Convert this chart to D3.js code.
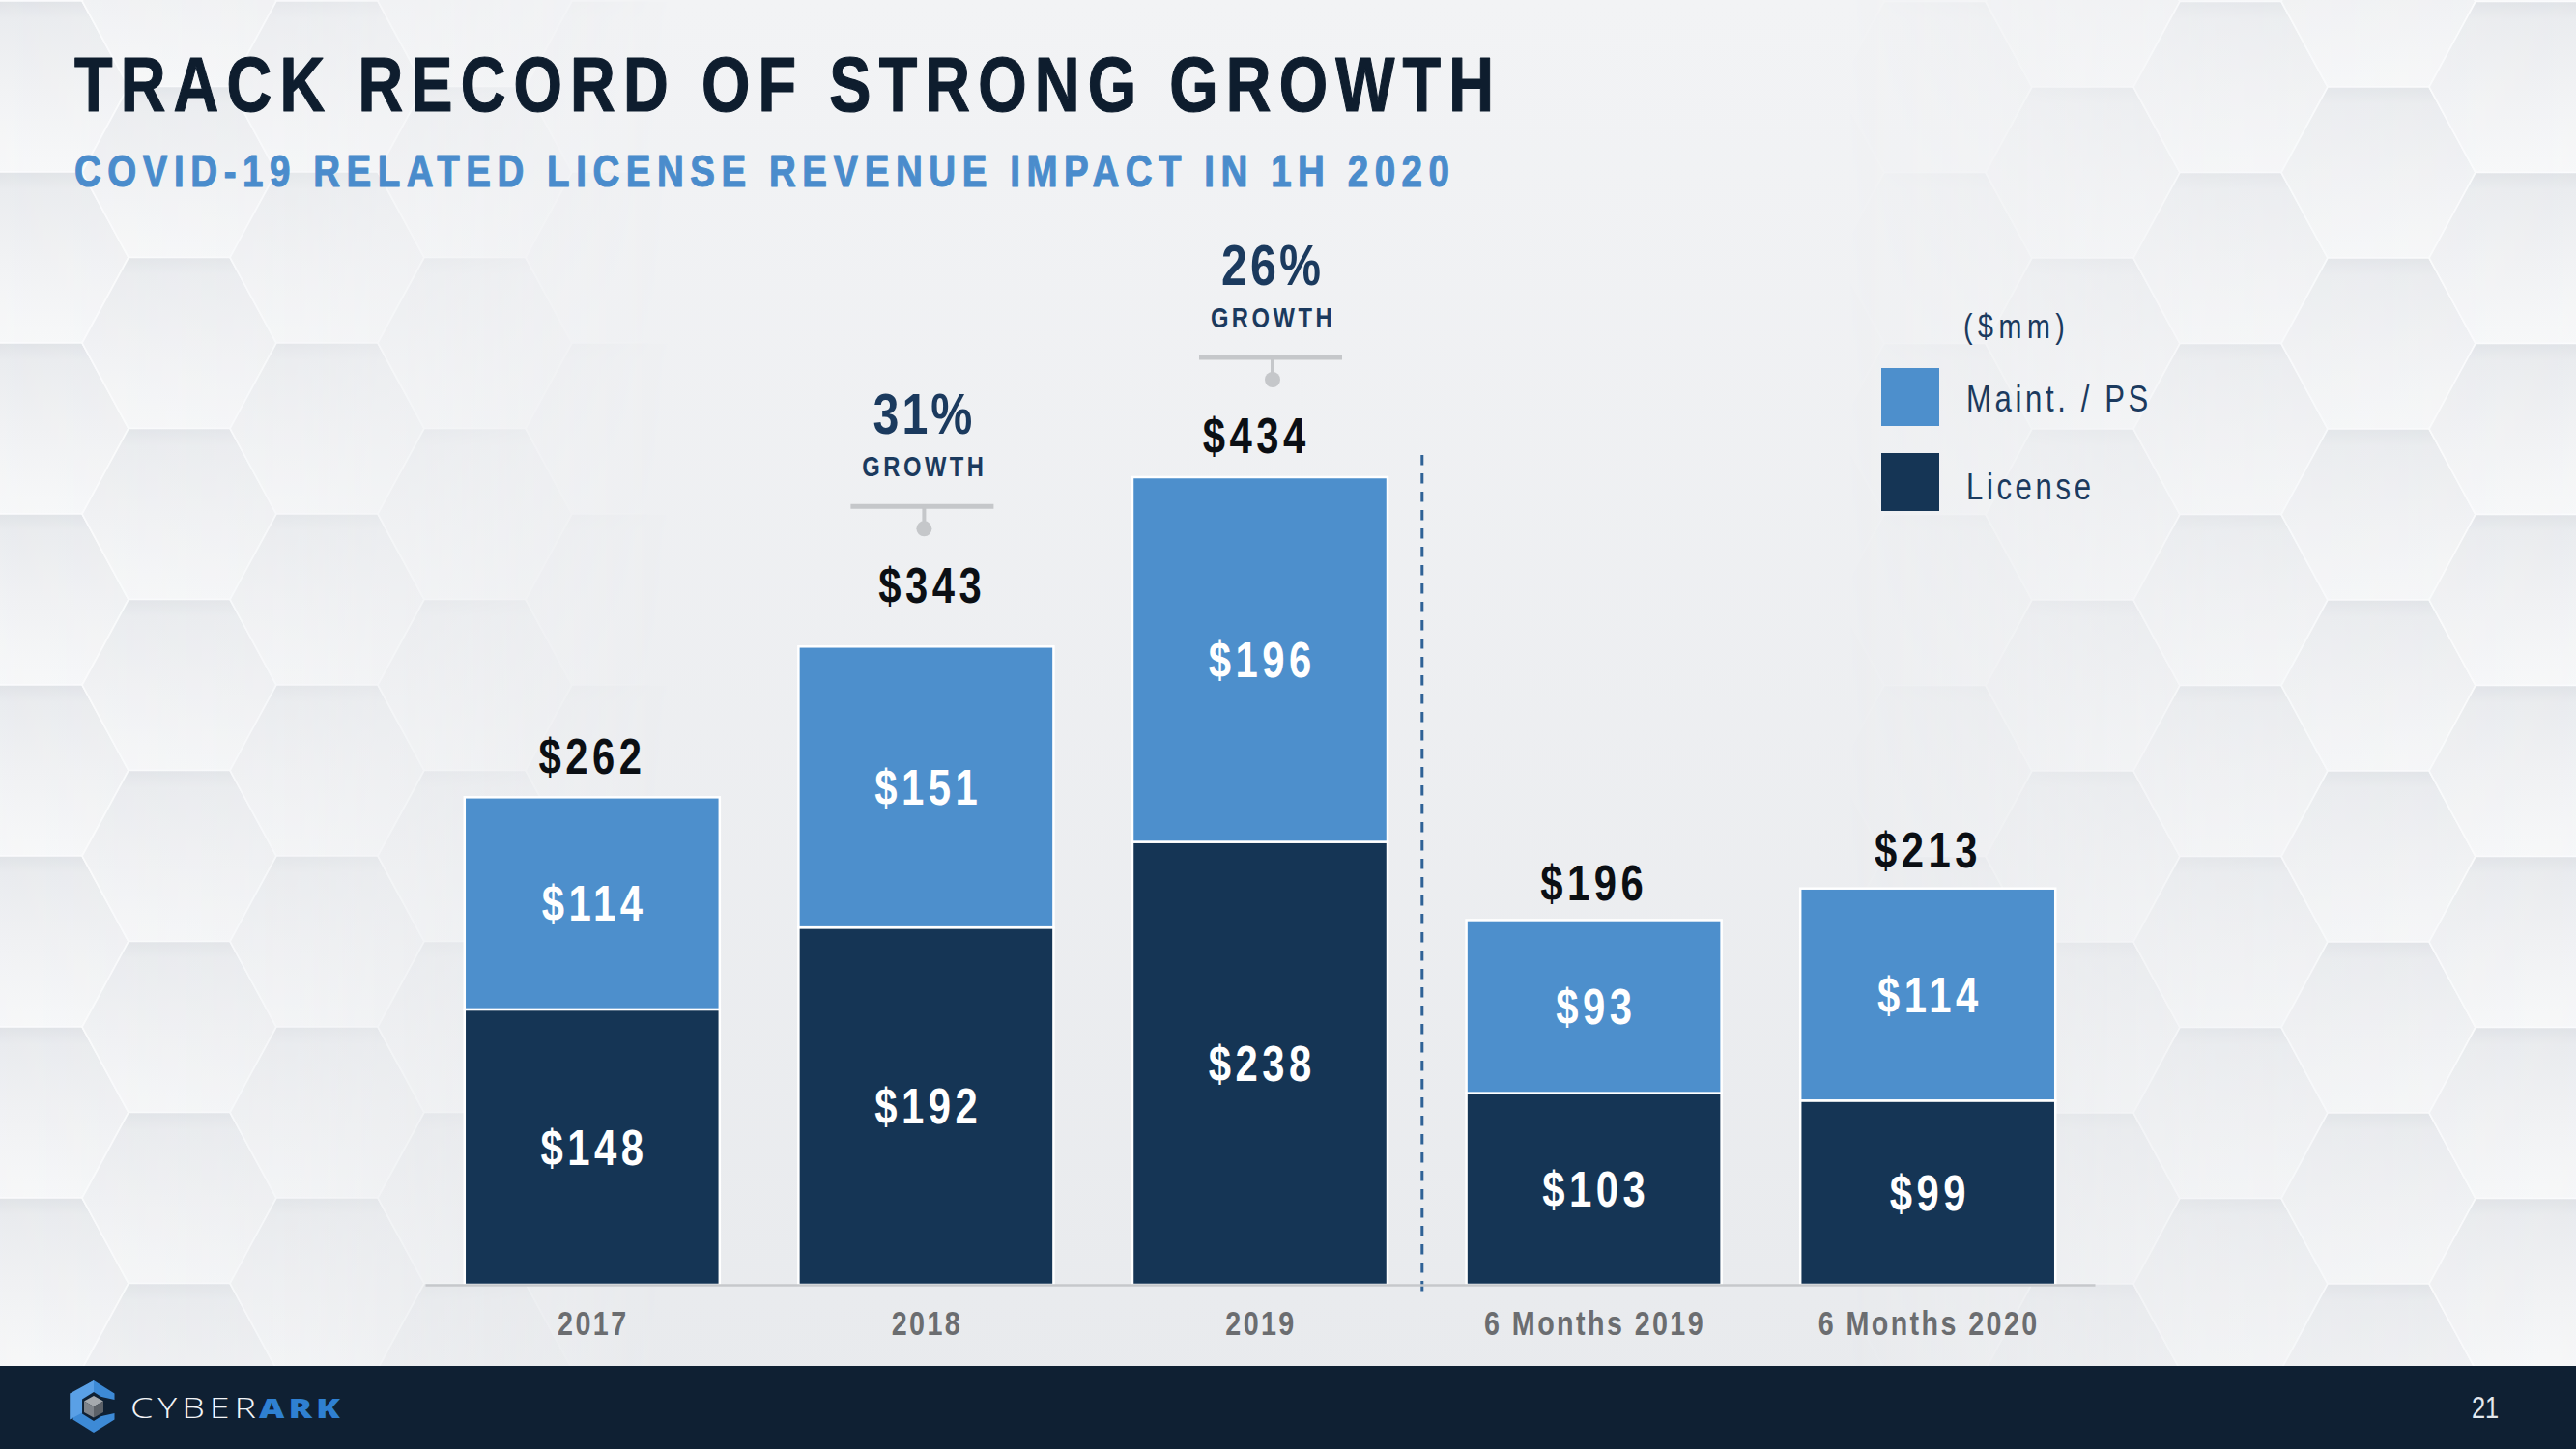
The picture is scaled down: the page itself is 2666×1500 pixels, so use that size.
<!DOCTYPE html>
<html><head><meta charset="utf-8">
<script src="https://cdn.jsdelivr.net/npm/d3@7"></script>
<style>html,body{margin:0;padding:0;background:#eff1f3;overflow:hidden}</style>
</head><body>
<svg id="c" width="2666" height="1500" xmlns="http://www.w3.org/2000/svg"></svg>
<script>
// ---------------- DATA ----------------
const categories = ["2017", "2018", "2019", "6 Months 2019", "6 Months 2020"];
const license = [148, 192, 238, 103, 99];
const maint = [114, 151, 196, 93, 114];
const totals = [262, 343, 434, 196, 213];
const seriesNames = ["Maint. / PS", "License"];
const growthCats = ["2018", "2019"];
const growthValues = ["31%", "26%"];
const growthWord = "GROWTH";
const unitLabel = "($mm)";
const titleText = "TRACK RECORD OF STRONG GROWTH";
const subtitleText = "COVID-19 RELATED LICENSE REVENUE IMPACT IN 1H 2020";
const pageNumber = "21";

// ---------------- FONTS ----------------
// Arial Narrow look: Liberation Sans (Arial metrics) squeezed horizontally
const FONT = "'Liberation Sans', Arial, sans-serif";
const SX = 0.82;

const C_LIGHT = "#4d8fcc", C_DARK = "#153555", C_NAVY = "#1b3a5e", C_FOOT = "#0f2033";

const svg = d3.select("#c");
const W = 2666, H = 1500;
const defs = svg.append("defs");

// narrow text helper
function ntext(parent, x, y, str, o) {
  const sx = o.sx || SX;
  const g = parent.append("g").attr("transform", `translate(${x},${y}) scale(${sx},1)`);
  const t = g.append("text").attr("x", 0).attr("y", 0).text(str)
    .attr("font-family", o.family || FONT).attr("font-weight", o.weight || 400).attr("font-size", o.size)
    .attr("fill", o.fill).attr("text-anchor", o.anchor || "start");
  if (o.ls != null) t.attr("letter-spacing", o.ls / sx);
  if (o.len != null) t.attr("textLength", o.len / sx).attr("lengthAdjust", "spacing");
  if (o.stroke) t.attr("stroke", o.fill).attr("stroke-width", o.stroke).attr("stroke-linejoin", "round");
  return t;
}

// ---------------- BACKGROUND ----------------
const bg = defs.append("linearGradient").attr("id", "bg").attr("x1", 0).attr("y1", 0).attr("x2", 0).attr("y2", 1);
bg.append("stop").attr("offset", 0).attr("stop-color", "#f2f3f5");
bg.append("stop").attr("offset", 1).attr("stop-color", "#e8eaed");
svg.append("rect").attr("width", W).attr("height", H).attr("fill", "url(#bg)");

const hg = defs.append("linearGradient").attr("id", "hexfill").attr("x1", 0).attr("y1", 0).attr("x2", 0).attr("y2", 1);
[[0, "#dfe2e6"], [0.1, "#e9ebee"], [0.5, "#f0f1f3"], [1, "#f7f8f9"]].forEach(s =>
  hg.append("stop").attr("offset", s[0]).attr("stop-color", s[1]));

function maskGrad(id, x1, x2, stops) {
  const g = defs.append("linearGradient").attr("id", id + "g").attr("gradientUnits", "userSpaceOnUse")
    .attr("x1", x1).attr("x2", x2).attr("y1", 0).attr("y2", 0);
  stops.forEach(s => g.append("stop").attr("offset", s[0]).attr("stop-color", "#fff").attr("stop-opacity", s[1]));
  defs.append("mask").attr("id", id).attr("maskUnits", "userSpaceOnUse")
    .attr("x", 0).attr("y", 0).attr("width", W).attr("height", H)
    .append("rect").attr("width", W).attr("height", H).attr("fill", `url(#${id}g)`);
}
maskGrad("mL", 0, 700, [[0, 0.95], [0.45, 0.65], [1, 0]]);
maskGrad("mR", 1900, 2666, [[0, 0], [0.5, 0.65], [1, 0.95]]);

function hexPath(cx, cy) {
  const a = 52.5, d = 48, h = 88.5;
  return `M${cx - a - d},${cy}L${cx - a},${cy - h}L${cx + a},${cy - h}L${cx + a + d},${cy}L${cx + a},${cy + h}L${cx - a},${cy + h}Z`;
}
function hexField(id, x0, y0, kmin, kmax) {
  const g = svg.append("g").attr("mask", `url(#${id})`);
  const cells = [];
  for (let k = kmin; k <= kmax; k++)
    for (let n = -7; n <= 5; n++)
      cells.push([x0 + k * 153, y0 + n * 177 + (Math.abs(k) % 2 ? 88.5 : 0)]);
  g.selectAll("path").data(cells).join("path")
    .attr("d", d => hexPath(d[0], d[1]))
    .attr("fill", "url(#hexfill)").attr("stroke", "#fbfcfd").attr("stroke-width", 1.6);
}
hexField("mL", 32.5, 797.5, -1, 5);
hexField("mR", 2308.5, 975, -3, 3);

// ---------------- TITLES ----------------
ntext(svg, 77, 115, titleText, { weight: 700, size: 79, fill: "#0e1d2e", len: 1469, stroke: 1.2 });
ntext(svg, 77, 193, subtitleText, { weight: 700, size: 47, fill: "#4a8ccc", len: 1423, stroke: 1.1 });

// ---------------- CHART ----------------
const x = d3.scaleBand().domain(categories).range([440, 2168]).paddingInner(0.236).paddingOuter(0.118);
const y = d3.scaleLinear().domain([0, 434]).range([1330, 494]);
const bw = x.bandwidth();

const table = categories.map((c, i) => ({ cat: c, License: license[i], Maint: maint[i] }));
const stacked = d3.stack().keys(["License", "Maint"])(table);
const colorOf = { License: C_DARK, Maint: C_LIGHT };

const gBars = svg.append("g");
stacked.forEach(layer => {
  gBars.append("g").selectAll("rect").data(layer).join("rect")
    .attr("x", d => x(d.data.cat)).attr("width", bw)
    .attr("y", d => y(d[1])).attr("height", d => y(d[0]) - y(d[1]))
    .attr("fill", colorOf[layer.key]).attr("stroke", "#ffffff").attr("stroke-width", 2.5);
});
// segment labels
const FS_VAL = 51, LS_VAL = 4.5;
stacked.forEach(layer => {
  layer.forEach(d => {
    ntext(gBars, x(d.data.cat) + bw / 2 + LS_VAL / 2, (y(d[0]) + y(d[1])) / 2 + FS_VAL * 0.358,
      "$" + (d[1] - d[0]), { weight: 700, size: FS_VAL, fill: "#ffffff", anchor: "middle", ls: LS_VAL });
  });
});
// total labels
const totalLift = [43, 64, 43, 39, 40];
const totalShift = [0, 6, -4, 0, 0];
const totalCenter = i => y(totals[i]) - totalLift[i];
const gTot = svg.append("g");
categories.forEach((c, i) => {
  ntext(gTot, x(c) + bw / 2 + LS_VAL / 2 - 2 + totalShift[i], totalCenter(i) + FS_VAL * 0.358, "$" + totals[i],
    { weight: 700, size: FS_VAL, fill: "#0b0f14", anchor: "middle", ls: LS_VAL });
});

// growth callouts
const growthShift = [-4, 11];
growthCats.forEach((cat, j) => {
  const i = categories.indexOf(cat);
  const cx = x(cat) + bw / 2 + growthShift[j];
  const cy = totalCenter(i) - 58;
  const g = svg.append("g");
  g.append("line").attr("x1", cx - 74).attr("x2", cx + 74).attr("y1", cy - 23).attr("y2", cy - 23)
    .attr("stroke", "#c5c7ca").attr("stroke-width", 5);
  g.append("line").attr("x1", cx + 2).attr("x2", cx + 2).attr("y1", cy - 23).attr("y2", cy)
    .attr("stroke", "#c5c7ca").attr("stroke-width", 4);
  g.append("circle").attr("cx", cx + 2).attr("cy", cy).attr("r", 8).attr("fill", "#c5c7ca");
  ntext(g, cx + 2.5, cy - 54, growthWord, { weight: 700, size: 29, fill: C_NAVY, anchor: "middle", ls: 3.5 });
  ntext(g, cx + 2, cy - 98, growthValues[j], { weight: 700, size: 59, fill: C_NAVY, anchor: "middle", ls: 3 });
});

// dashed divider between full years and half years
const divX = (x("2019") + bw + x("6 Months 2019")) / 2 - 5;
svg.append("line").attr("x1", divX).attr("x2", divX).attr("y1", y(434) - 23).attr("y2", y(0) + 8)
  .attr("stroke", "#2f6296").attr("stroke-width", 3).attr("stroke-dasharray", "10.5 8.5");

// x axis
const gx = svg.append("g").attr("transform", `translate(0,${y(0)})`)
  .call(d3.axisBottom(x).tickSize(0).tickSizeOuter(0));
gx.select(".domain").attr("stroke", "#c6c8cb").attr("stroke-width", 2.5);
gx.selectAll(".tick text").attr("y", 52).attr("dy", 0).attr("x", 1.2)
  .attr("transform", `scale(${SX},1)`)
  .attr("font-family", FONT).attr("font-weight", 700).attr("font-size", 35)
  .attr("letter-spacing", 2.4 / SX).attr("fill", "#6b6d70");

// ---------------- LEGEND ----------------
const lg = svg.append("g");
ntext(lg, 2032, 350, unitLabel, { size: 35, fill: C_NAVY, ls: 5.5 });
const legendColors = [C_LIGHT, C_DARK];
const legendY = d3.scalePoint().domain(seriesNames).range([381, 469]);
seriesNames.forEach((s, i) => {
  lg.append("rect").attr("x", 1947).attr("y", legendY(s)).attr("width", 60).attr("height", 60)
    .attr("fill", legendColors[i]);
  ntext(lg, 2035, legendY(s) + 45 + i * 3, s, { size: 38, fill: C_NAVY, ls: 3.6 });
});

// ---------------- FOOTER ----------------
svg.append("rect").attr("x", 0).attr("y", 1414).attr("width", W).attr("height", H - 1414).attr("fill", C_FOOT);
const logo = svg.append("g").attr("transform", "translate(97,1456)");
const hexPt = r => d3.range(6).map(k => { const a = Math.PI / 3 * k - Math.PI / 2; return [r * Math.cos(a) * 0.92, r * Math.sin(a)]; });
logo.append("polygon").attr("points", hexPt(27).join(" ")).attr("fill", "#3d8ad6");
logo.append("polygon").attr("points", [[0, -27], [-24.8, -13.5], [-24.8, 13.5], [0, 0]].join(" ")).attr("fill", "#5aa0e6");
logo.append("polygon").attr("points", hexPt(15).join(" ")).attr("fill", C_FOOT);
logo.append("polygon").attr("points", [[8, -10], [26, -6], [26, 6], [8, 10]].join(" ")).attr("fill", C_FOOT);
logo.append("polygon").attr("points", [[0, -11], [-10, -5.5], [0, 0], [10, -5.5]].join(" ")).attr("fill", "#a5a9ae");
logo.append("polygon").attr("points", [[-10, -5.5], [-10, 6], [0, 11.5], [0, 0]].join(" ")).attr("fill", "#7e838a");
logo.append("polygon").attr("points", [[0, 0], [0, 11.5], [10, 6], [10, -5.5]].join(" ")).attr("fill", "#5c6168");
ntext(svg, 135, 1468, "CYBER", { family: "'Open Sans', Lato, sans-serif", weight: 300, size: 29, sx: 1.3,
  fill: "#f2f4f7", len: 130 });
ntext(svg, 268, 1468, "ARK", { family: "'Open Sans', Lato, sans-serif", weight: 800, size: 29, sx: 1.25,
  fill: "#2f80d1", len: 84 });
ntext(svg, 2572, 1468, pageNumber, { size: 31, fill: "#e4e8ed", anchor: "middle" });
</script>
</body></html>
